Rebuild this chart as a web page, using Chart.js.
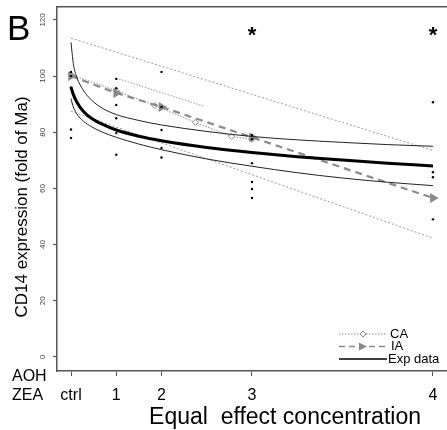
<!DOCTYPE html>
<html>
<head>
<meta charset="utf-8">
<script src="https://cdn.jsdelivr.net/npm/chart.js@4.4.0/dist/chart.umd.min.js"></script>
<style>
  html, body { margin: 0; padding: 0; background: #fff; }
</style>
</head>
<body>
<canvas id="fig" width="447" height="430"></canvas>
<script>
// x positions of the doses (ctrl,1,2,3,4 sit at 0,1,2,4,8 on a linear axis)
const xTickPos = [0, 1, 2, 4, 8];
const xTickLabels = ['ctrl', '1', '2', '3', '4'];
const yTickValues = [0, 20, 40, 60, 80, 100, 120];

// raw measurements (small dots)
const rawDose  = [0, 0, 0, 0, 0, 1, 1, 1, 1, 1, 1, 2, 2, 2, 2, 2, 4, 4, 4, 4, 4, 4, 8, 8, 8, 8];
const rawValue = [101.5, 100, 96, 81, 78, 99, 95.7, 89.7, 85, 79.7, 72, 101.5, 89, 80.8, 74.4, 71, 79, 77.5, 69, 62.3, 59.8, 56.6, 90.7, 65.8, 64, 49];

// fitted curve of the experimental data with its band
const fitX     = [0, 0.05, 0.13, 0.27, 0.45, 0.7, 1, 1.5, 2, 3, 4, 5, 6, 7, 8];
const expFit   = [96, 93.5, 90.7, 87.5, 85, 82.8, 80.8, 78.6, 77, 74.6, 72.8, 71.3, 70.1, 69, 68];
const expUpper = [112, 104.5, 99.5, 95, 91.5, 88.5, 86.3, 84.2, 82.6, 80.3, 78.5, 77.3, 76.4, 75.6, 75];
const expLower = [92, 89, 86.5, 84, 82, 80, 78.2, 75.8, 73.8, 70.5, 67.9, 65.6, 63.7, 62.2, 61];

// CA prediction
const caX = [0, 1, 1.85, 2.75, 3.55, 4];
const caY = [100.5, 94.8, 89.5, 83.5, 78.5, 77.5];
const caBandX = [0, 8];
const caUpper = [113.5, 73.5];
const caLower = [87.5, 42.3];
const caMidX = [1, 2.95];
const caMid = [99.3, 89.2];

// IA prediction
const iaX = [0, 1, 2, 4, 8];
const iaY = [100, 94, 89, 78.2, 56.6];

// significance stars
const starX = [4, 8];
const starY = [116, 116];

const GREY = '#8a8a8a';
const FONT = '"Liberation Sans", Arial, sans-serif';

function pts(xs, ys) { return xs.map((v, i) => ({x: v, y: ys[i]})); }

const figText = {
  id: 'figText',
  afterDraw(chart) {
    const {ctx, scales: {x, y}} = chart;
    ctx.save();
    ctx.setTransform(1, 0, 0, 1, 0, 0);
    ctx.fillStyle = '#000';
    ctx.textBaseline = 'alphabetic';
    ctx.textAlign = 'left';
    ctx.font = '35px ' + FONT;
    ctx.fillText('B', 7, 40);

    ctx.font = 'bold 22px ' + FONT;
    ctx.textAlign = 'center';
    starX.forEach((v, i) => ctx.fillText('*', x.getPixelForValue(v), y.getPixelForValue(starY[i]) + 11));

    // row labels under the axis
    ctx.font = '16px ' + FONT;
    ctx.textAlign = 'left';
    ctx.textBaseline = 'middle';
    ctx.fillText('AOH', 12, 377);
    ctx.fillText('ZEA', 12, 396);

    // axis titles
    ctx.font = '23px ' + FONT;
    ctx.textAlign = 'center';
    ctx.fillText('Equal  effect concentration', 285, 418);
    // y title, rotated to read upwards
    ctx.setTransform(0, -1, 1, 0, 22, 207);
    ctx.font = '17px ' + FONT;
    ctx.fillText('CD14 expression (fold of Ma)', 0, 0);
    ctx.setTransform(1, 0, 0, 1, 0, 0);

    // legend
    const lx0 = 339, lx1 = 387;
    const rows = [334, 346.5, 359];
    ctx.lineWidth = 1;
    ctx.strokeStyle = GREY;
    ctx.setLineDash([1.5, 1.5]);
    ctx.beginPath(); ctx.moveTo(lx0, rows[0]); ctx.lineTo(lx1, rows[0]); ctx.stroke();
    ctx.setLineDash([]);
    ctx.fillStyle = '#fff';
    ctx.beginPath();
    ctx.moveTo(363, rows[0] - 3); ctx.lineTo(366, rows[0]); ctx.lineTo(363, rows[0] + 3); ctx.lineTo(360, rows[0]); ctx.closePath();
    ctx.fill(); ctx.stroke();

    ctx.lineWidth = 1.5;
    ctx.setLineDash([6, 4]);
    ctx.beginPath(); ctx.moveTo(lx0, rows[1]); ctx.lineTo(lx1, rows[1]); ctx.stroke();
    ctx.setLineDash([]);
    ctx.fillStyle = GREY;
    ctx.beginPath();
    ctx.moveTo(359, rows[1] - 4); ctx.lineTo(367, rows[1]); ctx.lineTo(359, rows[1] + 4); ctx.closePath();
    ctx.fill();

    ctx.strokeStyle = '#000';
    ctx.lineWidth = 1.5;
    ctx.beginPath(); ctx.moveTo(lx0, rows[2]); ctx.lineTo(lx1, rows[2]); ctx.stroke();

    ctx.fillStyle = '#000';
    ctx.font = '13px ' + FONT;
    ctx.textAlign = 'left';
    ctx.textBaseline = 'middle';
    ctx.fillText('CA', 390, rows[0]);
    ctx.fillText('IA', 391, rows[1]);
    ctx.fillText('Exp data', 388, rows[2]);
    ctx.restore();
  }
};

new Chart(document.getElementById('fig'), {
  type: 'scatter',
  data: {
    datasets: [
      {
        label: 'raw', data: pts(rawDose, rawValue),
        pointRadius: 1.2, pointBackgroundColor: '#000', pointBorderWidth: 0, order: 0
      },
      {
        label: 'Exp data', data: pts(fitX, expFit), showLine: true,
        borderColor: '#000', borderWidth: 3, pointRadius: 0, cubicInterpolationMode: 'monotone', order: 1
      },
      {
        label: 'upper', data: pts(fitX, expUpper), showLine: true,
        borderColor: '#222', borderWidth: 1, pointRadius: 0, cubicInterpolationMode: 'monotone', order: 2
      },
      {
        label: 'lower', data: pts(fitX, expLower), showLine: true,
        borderColor: '#222', borderWidth: 1, pointRadius: 0, cubicInterpolationMode: 'monotone', order: 2
      },
      {
        label: 'IA', data: pts(iaX, iaY), showLine: true,
        borderColor: GREY, borderWidth: 2.2, borderDash: [7, 5], order: 3,
        pointStyle: 'triangle', rotation: 90, pointRadius: 3.5,
        pointBackgroundColor: GREY, pointBorderColor: GREY
      },
      {
        label: 'CA', data: pts(caX, caY), showLine: true,
        borderColor: GREY, borderWidth: 1, borderDash: [1.5, 1.5], order: 4,
        pointStyle: 'rectRot', pointRadius: 3,
        pointBackgroundColor: '#fff', pointBorderColor: GREY, pointBorderWidth: 1
      },
      {
        label: 'CA upper', data: pts(caBandX, caUpper), showLine: true,
        borderColor: '#999', borderWidth: 1, borderDash: [2, 2], pointRadius: 0, order: 5
      },
      {
        label: 'CA lower', data: pts(caBandX, caLower), showLine: true,
        borderColor: '#999', borderWidth: 1, borderDash: [2, 2], pointRadius: 0, order: 5
      },
      {
        label: 'CA mid', data: pts(caMidX, caMid), showLine: true,
        borderColor: '#999', borderWidth: 1, borderDash: [1.5, 1.5], pointRadius: 0, order: 5
      }
    ]
  },
  options: {
    responsive: false,
    animation: false,
    devicePixelRatio: 1,
    events: [],
    layout: { autoPadding: false, padding: { top: 7, right: 0, left: 0, bottom: 0 } },
    plugins: { legend: { display: false }, tooltip: { enabled: false } },
    scales: {
      x: {
        type: 'linear', position: 'bottom', min: -0.31, max: 8.31,
        afterBuildTicks: s => { s.ticks = xTickPos.map(v => ({value: v})); },
        afterFit: s => { s.height = 59; s.paddingLeft = 0; s.paddingRight = 0; },
        ticks: {
          autoSkip: false, maxRotation: 0, padding: 10, color: '#000',
          font: { family: FONT, size: 16 },
          callback: v => xTickLabels[xTickPos.indexOf(v)]
        },
        grid: { drawOnChartArea: false, tickLength: 5, color: '#555', lineWidth: 1 },
        border: { display: true, color: '#555', width: 1.5 }
      },
      xTop: {
        type: 'linear', position: 'top', min: -0.31, max: 8.31,
        afterFit: s => { s.height = 0; s.paddingLeft = 0; s.paddingRight = 0; },
        ticks: { display: false },
        grid: { display: false },
        border: { display: true, color: '#555', width: 1.5 }
      },
      y: {
        type: 'linear', position: 'left', min: -5, max: 124.6,
        afterBuildTicks: s => { s.ticks = yTickValues.map(v => ({value: v})); },
        afterFit: s => { s.width = 57; s.paddingTop = 0; s.paddingBottom = 0; },
        ticks: {
          minRotation: 90, maxRotation: 90, crossAlign: 'center', padding: 4,
          color: '#444', font: { family: FONT, size: 8 }
        },
        grid: { drawOnChartArea: false, tickLength: 4, color: '#555', lineWidth: 1 },
        border: { display: true, color: '#555', width: 1.5 }
      }
    }
  },
  plugins: [figText]
});
</script>
</body>
</html>
